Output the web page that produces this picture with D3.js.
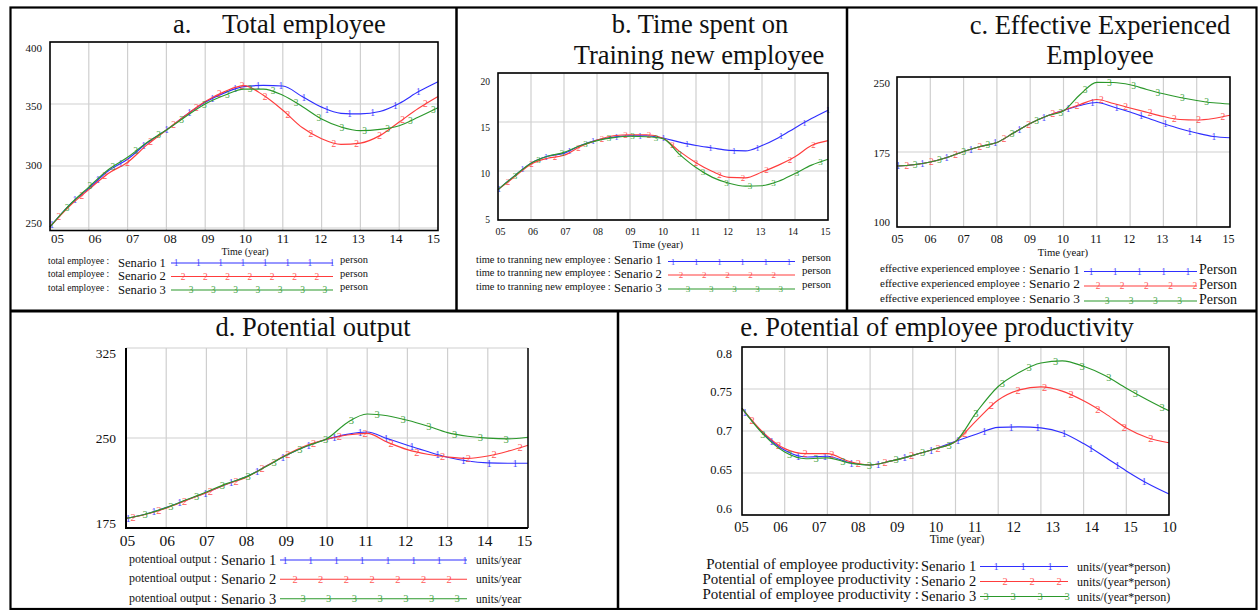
<!DOCTYPE html>
<html>
<head>
<meta charset="utf-8">
<script src="https://cdn.jsdelivr.net/npm/d3@7/dist/d3.min.js"></script>
<style>
  body { margin: 0; background: #fff; }
  svg { display: block; }
  text { fill: #111; }
</style>
</head>
<body>
<div id="chart"></div>
<script>
var width = 1258,
    height = 610;

// years since 2005 (axis labels 05 ... 15)
var time = [0, 0.5, 1, 1.5, 2, 2.5, 3, 3.5, 4, 4.5, 5, 5.5, 6, 6.5, 7, 7.5, 8, 8.5, 9, 9.5, 10];

var yearLabels = ["05", "06", "07", "08", "09", "10", "11", "12", "13", "14", "15"];
var yearLabelsE = ["05", "06", "07", "08", "09", "10", "11", "12", "13", "14", "15", "10"];

var scenarios = ["Senario 1", "Senario 2", "Senario 3"];
var markNames = ["1", "2", "3"];
var colors = ["#2f2fff", "#ff3c3c", "#2b982b"];

// a. total employee
var employeeTicks = [400, 350, 300, 250];
var employee1 = [251, 268.5, 282, 296, 305.5, 318.5, 329, 341, 351.5, 359, 364, 365, 364.5, 356, 347.5, 342.5, 342, 344, 350.5, 360, 368];
var employee2 = [251, 267.5, 281, 294, 303, 317, 329, 341, 352, 360, 364.8, 357, 345, 331, 322, 317.5, 318.5, 324.5, 335.5, 346.5, 356];
var employee3 = [251, 268.5, 283, 297, 307, 319, 329, 340, 350, 357, 362, 362, 357, 348, 338, 331.5, 328.5, 329.5, 332.5, 339.5, 347];

// b. time to training new employee
var trainingTicks = [20, 15, 10, 5];
var training1 = [8.1, 9.5, 10.8, 11.5, 11.8, 12.6, 13.15, 13.45, 13.6, 13.6, 13.35, 12.95, 12.6, 12.35, 12.1, 12.05, 12.6, 13.4, 14.4, 15.35, 16.2];
var training2 = [8.1, 9.4, 10.7, 11.3, 11.6, 12.5, 13.15, 13.6, 13.7, 13.7, 13.35, 12.0, 10.85, 9.95, 9.35, 9.3, 9.9, 10.6, 11.45, 12.6, 13.1];
var training3 = [8.1, 9.5, 10.8, 11.5, 11.9, 12.6, 13.1, 13.4, 13.55, 13.5, 13.3, 11.7, 10.35, 9.35, 8.75, 8.45, 8.5, 8.95, 9.75, 10.6, 11.2];

// c. effective experienced employee
var experiencedTicks = [250, 175, 100];
var experienced1 = [161, 162.3, 165, 169.5, 175.5, 180.5, 184.5, 194, 203.5, 211, 216.5, 221.5, 224.5, 220, 215, 209.2, 203.5, 198.3, 194, 190.5, 189.3];
var experienced2 = [161, 162.3, 165, 169.5, 175.5, 180.5, 184.5, 194, 203.5, 211, 216.5, 222.5, 227.5, 223.5, 219, 214.7, 210.5, 207.5, 207, 208.5, 211.7];
var experienced3 = [161, 162.3, 165, 169.5, 175.5, 180.5, 184.5, 194, 203.5, 211, 216, 232.5, 244.7, 244.5, 242.2, 237.5, 233.2, 229.5, 226.5, 224.2, 223];

// d. potential output
var outputTicks = [325, 250, 175];
var output1 = [183, 186.7, 192, 198.2, 204.6, 211.5, 217.8, 226.8, 235.9, 243.4, 248.9, 253, 255, 249.5, 244, 238.7, 234, 230.8, 229.3, 229, 229];
var output2 = [183, 186.5, 191.5, 198, 204.5, 211.5, 217.3, 226.8, 236.3, 244, 249, 252.5, 253.8, 246.5, 240.3, 236.5, 234.2, 233, 235, 239, 244];
var output3 = [183, 186.7, 192, 198.5, 205, 212, 217.8, 226.5, 235.8, 243.4, 249.5, 262.8, 270, 268.5, 264.8, 260, 254.5, 251.5, 249.9, 249.3, 250.6];

// e. potential of employee productivity
var productivityTicks = [0.8, 0.75, 0.7, 0.65, 0.6];
var productivity1 = [0.727, 0.697, 0.677, 0.669, 0.670, 0.6625, 0.6595, 0.6645, 0.671, 0.6785, 0.6876, 0.6965, 0.7044, 0.705, 0.7038, 0.698, 0.685, 0.669, 0.6525, 0.6375, 0.625];
var productivity2 = [0.727, 0.698, 0.679, 0.673, 0.673, 0.664, 0.6595, 0.6645, 0.671, 0.6785, 0.6876, 0.713, 0.737, 0.749, 0.7525, 0.7475, 0.736, 0.721, 0.7035, 0.692, 0.686];
var productivity3 = [0.727, 0.696, 0.675, 0.667, 0.668, 0.662, 0.6595, 0.6645, 0.671, 0.6785, 0.6876, 0.723, 0.753, 0.770, 0.781, 0.7835, 0.777, 0.766, 0.751, 0.737, 0.724];

var panels = [
  {
    titles: [["a.", 173, 33, "start"], ["Total employee", 222, 33, "start"]],
    left: 50, right: 438, top: 42, bottom: 230.5, domain: [248, 400], openTop: false,
    yTicks: employeeTicks, yLabelX: 42, yLabelRange: [48, 223], yLabelSize: 11,
    xLabels: yearLabels, xLabelRange: [57, 433], xLabelY: 243, xLabelSize: 13,
    timeLabel: [245, 255, 10],
    series: [employee1, employee2, employee3],
    markStep: 22.9, markOffsets: [2, 9, 17], markSize: 9.5,
    legend: {
      rows: [263, 276.5, 290],
      text: ["total employee :", "total employee :", "total employee :"], textX: 48, textAnchor: "start", textSize: 9.5, textDy: 0.5,
      senX: 118, senSize: 12.6, senDy: 3.5,
      lineX1: 171, lineX2: 333,
      unit: "person", unitX: 340, unitSize: 10.5, unitDy: 0,
      markStep: 22.3, markOffsets: [5, 12, 20]
    }
  },
  {
    titles: [["b. Time spent on", 700, 33, "middle"], ["Training new employee", 699, 63.5, "middle"]],
    left: 498, right: 828, top: 73, bottom: 220, domain: [5, 20], openTop: false,
    yTicks: trainingTicks, yLabelX: 490, yLabelRange: [81, 219], yLabelSize: 9.5,
    xLabels: yearLabels, xLabelRange: [500, 825], xLabelY: 235, xLabelSize: 10,
    timeLabel: [658, 248, 10.7],
    series: [training1, training2, training3],
    markStep: 23.5, markOffsets: [1, 10, 17], markSize: 9,
    legend: {
      rows: [261.5, 275, 289],
      text: ["time to tranning new employee :", "time to tranning new employee :", "time to tranning new employee :"], textX: 476, textAnchor: "start", textSize: 10.4, textDy: 1,
      senX: 614, senSize: 12.6, senDy: 2.5,
      lineX1: 668, lineX2: 795,
      unit: "person", unitX: 802, unitSize: 10.9, unitDy: -1,
      markStep: 23.2, markOffsets: [5, 13, 20]
    }
  },
  {
    titles: [["c. Effective Experienced", 1100, 34, "middle"], ["Employee", 1100, 64, "middle"]],
    left: 897, right: 1230, top: 77, bottom: 227, domain: [100, 250], openTop: false,
    yTicks: experiencedTicks, yLabelX: 890, yLabelRange: [83, 222], yLabelSize: 11,
    xLabels: yearLabels, xLabelRange: [897, 1228], xLabelY: 242.5, xLabelSize: 12,
    timeLabel: [1063, 256, 10.7],
    series: [experienced1, experienced2, experienced3],
    markStep: 24.3, markOffsets: [1, 10, 18], markSize: 9.5,
    legend: {
      rows: [271.5, 286, 301],
      text: ["effective experienced employee :", "effective experienced employee :", "effective experienced employee :"], textX: 880, textAnchor: "start", textSize: 11, textDy: 0.5,
      senX: 1029, senSize: 13.4, senDy: 2,
      lineX1: 1084, lineX2: 1197,
      unit: "Person", unitX: 1199, unitSize: 14, unitDy: 2.5,
      markStep: 24.2, markOffsets: [7, 14, 23]
    }
  },
  {
    titles: [["d. Potential output", 313, 336, "middle"]],
    left: 126, right: 528, top: 348, bottom: 528, domain: [175, 325], openTop: true,
    yTicks: outputTicks, yLabelX: 116, yLabelRange: [353, 523], yLabelSize: 13.5,
    xLabels: yearLabels, xLabelRange: [127, 524], xLabelY: 546, xLabelSize: 15.5,
    timeLabel: null,
    series: [output1, output2, output3],
    markStep: 25.8, markOffsets: [2, 7, 19], markSize: 10.5,
    legend: {
      rows: [560, 579.3, 598.7],
      text: ["potentioal output :", "potentioal output :", "potentioal output :"], textX: 129, textAnchor: "start", textSize: 12, textDy: 3,
      senX: 221, senSize: 14.5, senDy: 5,
      lineX1: 280, lineX2: 467,
      unit: "units/year", unitX: 476, unitSize: 11.5, unitDy: 4,
      markStep: 25.7, markOffsets: [5, 15, 23]
    }
  },
  {
    titles: [["e. Potential of employee productivity", 937, 336, "middle"]],
    left: 742, right: 1169, top: 347, bottom: 515, domain: [0.6, 0.8], openTop: false,
    yTicks: productivityTicks, yLabelX: 732, yLabelRange: [353, 508], yLabelSize: 12.5,
    xLabels: yearLabelsE, xLabelRange: [741, 1169], xLabelY: 532, xLabelSize: 14.5,
    timeLabel: [957, 543, 11.6],
    series: [productivity1, productivity2, productivity3],
    markStep: 26.6, markOffsets: [3, 10, 21], markSize: 10.5,
    legend: {
      rows: [566.5, 581.5, 596.5],
      text: ["Potential of employee productivity:", "Potential of employee productivity :", "Potential of employee productivity :"], textX: 919, textAnchor: "end", textSize: 15, textDy: 2.5,
      senX: 921, senSize: 14.5, senDy: 4,
      lineX1: 980, lineX2: 1068,
      unit: "units/(year*person)", unitX: 1077, unitSize: 12, unitDy: 4,
      markStep: 27, markOffsets: [16, 25, 6]
    }
  }
];

var serif = pickFont(["Liberation Serif", "Times New Roman", "Tinos", "Nimbus Roman", "DejaVu Serif"]);

var svg = d3.select("#chart").append("svg")
    .attr("width", width)
    .attr("height", height)
    .style("font-family", serif);

panels.forEach(function(p) { drawPanel(p); });
drawFrame();

// first installed family from the list (canvas width test against monospace)
function pickFont(list) {
  var ctx = document.createElement("canvas").getContext("2d");
  var sample = "mmmmmmmmmmlliWWQ0.8employee";
  ctx.font = "72px monospace";
  var base = ctx.measureText(sample).width;
  for (var i = 0; i < list.length; i++) {
    ctx.font = '72px "' + list[i] + '", monospace';
    if (Math.abs(ctx.measureText(sample).width - base) > 0.5) return '"' + list[i] + '", serif';
  }
  return "serif";
}

function drawPanel(p) {
  var g = svg.append("g");

  var x = d3.scaleLinear().domain([0, 10]).range([p.left, p.right]);
  var y = d3.scaleLinear().domain(p.domain).range([p.bottom, p.top]);

  // titles
  p.titles.forEach(function(t) {
    g.append("text")
        .attr("x", t[1]).attr("y", t[2])
        .attr("text-anchor", t[3])
        .attr("font-size", 26.5)
        .text(t[0]);
  });

  // grid
  g.selectAll(".vgrid")
      .data(x.ticks(10).filter(function(d) { return d > 0 && d < 10; }))
      .enter().append("line")
      .attr("x1", function(d) { return x(d); }).attr("x2", function(d) { return x(d); })
      .attr("y1", p.top).attr("y2", p.bottom)
      .attr("stroke", "#cfcfcf").attr("stroke-width", 1.2);

  g.selectAll(".hgrid")
      .data(p.yTicks)
      .enter().append("line")
      .attr("x1", p.left).attr("x2", p.right)
      .attr("y1", function(d) { return y(d); }).attr("y2", function(d) { return y(d); })
      .attr("stroke", "#cfcfcf").attr("stroke-width", 1.2);

  // series
  var line = d3.line()
      .x(function(d, i) { return x(time[i]); })
      .y(function(d) { return y(d); })
      .curve(d3.curveMonotoneX);

  p.series.forEach(function(values, si) {
    var path = g.append("path")
        .datum(values)
        .attr("d", line)
        .attr("fill", "none")
        .attr("stroke", colors[si])
        .attr("stroke-width", 1.15);

    var node = path.node();
    var xs = [];
    for (var mx = p.left + p.markOffsets[si]; mx <= p.right + 0.5; mx += p.markStep) xs.push(mx);
    g.selectAll(".mark" + si)
        .data(xs.map(function(mx) { return pointAtX(node, mx); }))
        .enter().append("text")
        .attr("x", function(d) { return d.x; })
        .attr("y", function(d) { return d.y; })
        .attr("dy", "0.35em")
        .attr("text-anchor", "middle")
        .attr("font-size", p.markSize)
        .style("fill", colors[si])
        .attr("opacity", 0.85)
        .text(markNames[si]);
  });

  // plot frame
  if (p.openTop) {
    g.append("line").attr("x1", p.left).attr("x2", p.left).attr("y1", p.top).attr("y2", p.bottom + 1)
        .attr("stroke", "#000").attr("stroke-width", 2);
    g.append("line").attr("x1", p.left - 1).attr("x2", p.right).attr("y1", p.bottom).attr("y2", p.bottom)
        .attr("stroke", "#000").attr("stroke-width", 2);
    g.append("line").attr("x1", p.right).attr("x2", p.right).attr("y1", p.top).attr("y2", p.bottom)
        .attr("stroke", "#000").attr("stroke-width", 1.5);
  } else {
    g.append("rect")
        .attr("x", p.left).attr("y", p.top)
        .attr("width", p.right - p.left).attr("height", p.bottom - p.top)
        .attr("fill", "none").attr("stroke", "#000").attr("stroke-width", 1.6);
  }

  // axis labels
  var xl = d3.scalePoint().domain(d3.range(p.xLabels.length)).range(p.xLabelRange);
  var xAxis = g.append("g")
      .attr("transform", "translate(0," + p.xLabelY + ")")
      .call(d3.axisBottom(xl).tickSize(0).tickPadding(0)
        .tickFormat(function(i) { return p.xLabels[i]; }));
  xAxis.select(".domain").remove();
  xAxis.attr("font-family", serif).attr("font-size", p.xLabelSize);
  xAxis.selectAll("text").attr("y", 0).attr("dy", null).style("fill", "#111");

  var yl = d3.scalePoint().domain(d3.range(p.yTicks.length)).range(p.yLabelRange);
  var yAxis = g.append("g")
      .attr("transform", "translate(" + p.yLabelX + ",0)")
      .call(d3.axisLeft(yl).tickSize(0).tickPadding(0)
        .tickFormat(function(i) { return String(p.yTicks[i]); }));
  yAxis.select(".domain").remove();
  yAxis.attr("font-family", serif).attr("font-size", p.yLabelSize);
  yAxis.selectAll("text").style("fill", "#111");

  if (p.timeLabel) {
    g.append("text")
        .attr("x", p.timeLabel[0]).attr("y", p.timeLabel[1])
        .attr("text-anchor", "middle")
        .attr("font-size", p.timeLabel[2])
        .text("Time (year)");
  }

  drawLegend(g, p.legend, p.markSize);
}

function drawLegend(g, lg, markSize) {
  lg.rows.forEach(function(ry, si) {
    g.append("text")
        .attr("x", lg.textX).attr("y", ry + lg.textDy)
        .attr("text-anchor", lg.textAnchor)
        .attr("font-size", lg.textSize)
        .text(lg.text[si]);

    g.append("text")
        .attr("x", lg.senX).attr("y", ry + lg.senDy)
        .attr("font-size", lg.senSize)
        .text(scenarios[si]);

    g.append("line")
        .attr("x1", lg.lineX1).attr("x2", lg.lineX2)
        .attr("y1", ry).attr("y2", ry)
        .attr("stroke", colors[si]).attr("stroke-width", 1.1);

    var xs = [];
    for (var mx = lg.lineX1 + lg.markOffsets[si]; mx <= lg.lineX2 + 0.5; mx += lg.markStep) xs.push(mx);
    g.selectAll(".lmark" + si)
        .data(xs)
        .enter().append("text")
        .attr("x", function(d) { return d; })
        .attr("y", ry)
        .attr("dy", "0.35em")
        .attr("text-anchor", "middle")
        .attr("font-size", markSize)
        .style("fill", colors[si])
        .attr("opacity", 0.85)
        .text(markNames[si]);

    g.append("text")
        .attr("x", lg.unitX).attr("y", ry + lg.unitDy)
        .attr("font-size", lg.unitSize)
        .text(lg.unit);
  });
}

function pointAtX(node, targetX) {
  var lo = 0, hi = node.getTotalLength(), p = node.getPointAtLength(0);
  for (var i = 0; i < 32; i++) {
    var mid = (lo + hi) / 2;
    p = node.getPointAtLength(mid);
    if (p.x < targetX) lo = mid; else hi = mid;
  }
  return p;
}

function drawFrame() {
  var f = svg.append("g").attr("stroke", "#000").attr("fill", "none");
  f.append("rect")
      .attr("x", 10.5).attr("y", 7.5)
      .attr("width", 1246).attr("height", 601.5)
      .attr("stroke-width", 2.2);
  f.append("line").attr("x1", 456.5).attr("x2", 456.5).attr("y1", 7).attr("y2", 311).attr("stroke-width", 2.5);
  f.append("line").attr("x1", 847).attr("x2", 847).attr("y1", 7).attr("y2", 311).attr("stroke-width", 2.5);
  f.append("line").attr("x1", 10).attr("x2", 1257).attr("y1", 311).attr("y2", 311).attr("stroke-width", 3);
  f.append("line").attr("x1", 618).attr("x2", 618).attr("y1", 311).attr("y2", 609).attr("stroke-width", 2.5);
}
</script>
</body>
</html>
